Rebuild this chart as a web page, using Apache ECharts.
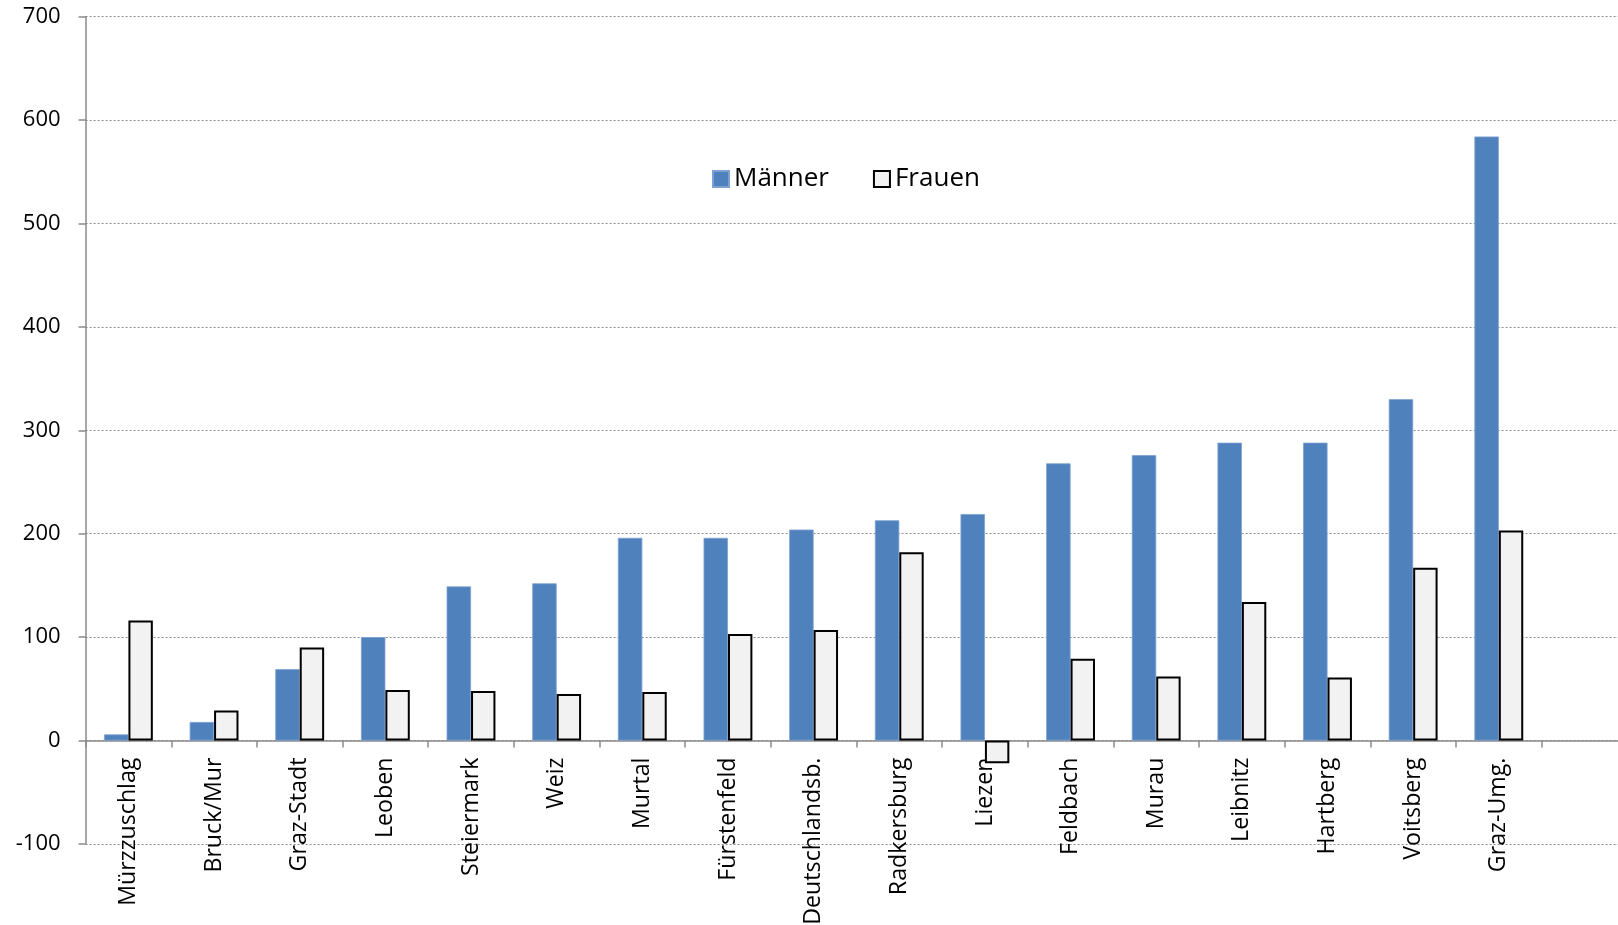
<!DOCTYPE html>
<html>
<head>
<meta charset="utf-8">
<script src="https://cdn.jsdelivr.net/npm/echarts@6/dist/echarts.min.js"></script>
<style>
html,body{margin:0;padding:0;background:#fff;}
#c{width:1618px;height:925px;}
</style>
</head>
<body>
<div id="c"></div>
<script>
// Categories (last one empty: the plot area continues past the last district)
const categories = ['Mürzzuschlag','Bruck/Mur','Graz-Stadt','Leoben','Steiermark','Weiz','Murtal','Fürstenfeld','Deutschlandsb.','Radkersburg','Liezen','Feldbach','Murau','Leibnitz','Hartberg','Voitsberg','Graz-Umg.',''];
const maenner = [6, 18, 69, 100, 149, 152, 196, 196, 204, 213, 219, 268, 276, 288, 288, 330, 584];
const frauen  = [116, 29, 90, 49, 48, 45, 47, 103, 107, 182, -22, 79, 62, 134, 61, 167, 203];
const seriesNames = ['Männer', 'Frauen'];
const yMin = -100, yMax = 700, yStep = 100;

const chart = echarts.init(document.getElementById('c'), null, {renderer: 'canvas'});
const FONT = 'Open Sans';
const gridTop = 16.5, gridBottom = 81;
const plotH = 925 - gridTop - gridBottom;
// shift the category axis up to the zero line (labels included)
const zeroOffset = -plotH * (0 - yMin) / (yMax - yMin);
chart.setOption({
  animation: false,
  backgroundColor: '#ffffff',
  grid: {left: 85.6, right: -9.3, top: gridTop, bottom: gridBottom, containLabel: false, outerBoundsMode: 'none'},
  legend: {
    data: seriesNames,
    left: 707, top: 161,
    itemWidth: 16, itemHeight: 16, itemGap: 44,
    icon: 'rect',
    textStyle: {fontFamily: FONT, fontSize: 26, color: '#000'}
  },
  xAxis: {
    type: 'category',
    data: categories,
    offset: zeroOffset,
    axisLine: {onZero: false, lineStyle: {color: '#8a8a8a', width: 1.5}},
    axisTick: {show: true, interval: 0, length: 7, lineStyle: {color: '#8a8a8a', width: 1.5}},
    axisLabel: {interval: 0, rotate: 90, margin: 17, fontFamily: FONT, fontSize: 23.2, color: '#000'},
    splitLine: {show: false}
  },
  yAxis: {
    type: 'value',
    min: yMin, max: yMax, interval: yStep,
    axisLine: {show: true, lineStyle: {color: '#8a8a8a', width: 1.5}},
    axisTick: {show: true, length: 7, lineStyle: {color: '#8a8a8a', width: 1.5}},
    axisLabel: {margin: 25, fontFamily: FONT, fontSize: 22, color: '#000'},
    splitLine: {show: true, lineStyle: {color: '#8c8c8c', type: [2, 2], width: 1}}
  },
  series: [
    {
      name: seriesNames[0], type: 'bar', data: maenner,
      barGap: '0%', barCategoryGap: '43%',
      itemStyle: {color: '#4f81bd', borderColor: '#7ea1d1', borderWidth: 0.8}
    },
    {
      name: seriesNames[1], type: 'bar', data: frauen,
      barGap: '0%', barCategoryGap: '43%',
      itemStyle: {color: '#f2f2f2', borderColor: '#000000', borderWidth: 2}
    }
  ]
});
</script>
</body>
</html>
